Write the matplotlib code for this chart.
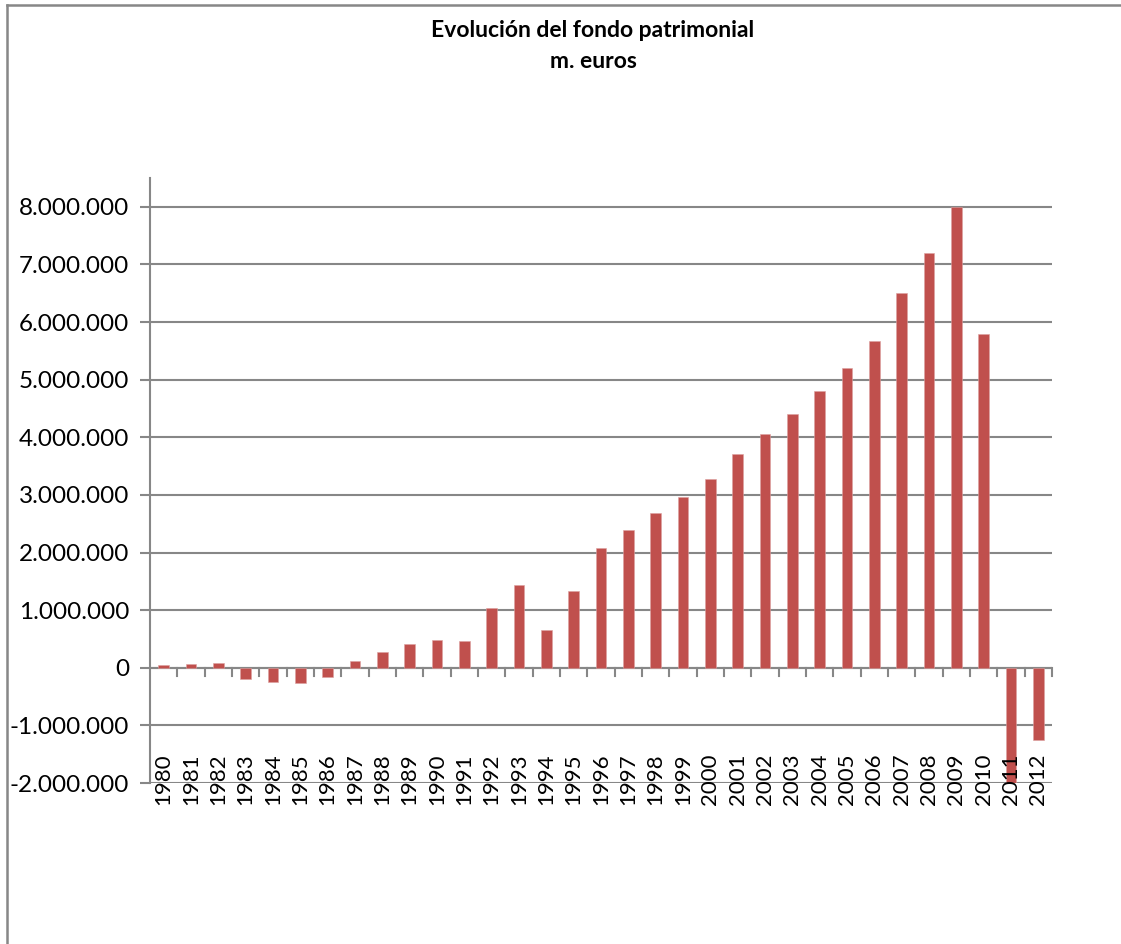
import matplotlib.pyplot as plt
from matplotlib.lines import Line2D
from matplotlib.ticker import FixedLocator, FuncFormatter
import numpy as np

# Evolución del fondo patrimonial (m. euros)

years = [str(y) for y in range(1980, 2013)]

values = [
    45000, 60000, 80000, -200000, -250000, -270000, -160000, 125000,
    280000, 410000, 490000, 470000, 1030000, 1440000, 660000, 1340000,
    2070000, 2390000, 2690000, 2970000, 3270000, 3710000, 4050000,
    4410000, 4800000, 5200000, 5670000, 6500000, 7200000, 8000000,
    5790000, -2050000, -1260000,
]

y_ticks = list(range(-2000000, 8000001, 1000000))

BAR_COLOR = "#C0504D"
GRID_COLOR = "#878787"
FONT = "Lato"

fig = plt.figure(figsize=(11.21, 9.44), dpi=100)

ax = fig.add_axes([150 / 1121, 1 - 783 / 944, 902 / 1121, (783 - 178) / 944])

x = np.arange(len(years))

ax.bar(
    x,
    values,
    width=0.38,
    color=BAR_COLOR,
    edgecolor="#DDA0A0",
    linewidth=0.4,
    zorder=3,
)

ax.set_xlim(-0.5, len(years) - 0.5)
ax.set_ylim(-2000000, 8500000)

# y axis
ax.yaxis.set_major_locator(FixedLocator(y_ticks))
ax.yaxis.set_major_formatter(
    FuncFormatter(lambda v, p: f"{int(v):,}".replace(",", "."))
)
ax.tick_params(
    axis="y",
    length=7,
    width=1.5,
    color=GRID_COLOR,
    labelsize=17.5,
    pad=8,
)
for label in ax.get_yticklabels():
    label.set_fontfamily(FONT)

ax.grid(axis="y", color=GRID_COLOR, linewidth=1.5, zorder=1)
ax.set_axisbelow(True)

for side in ["top", "right", "bottom"]:
    ax.spines[side].set_visible(False)
ax.spines["left"].set_color(GRID_COLOR)
ax.spines["left"].set_linewidth(1.5)

# category axis drawn at zero, ticks between categories
ax.axhline(0, color=GRID_COLOR, linewidth=1.5, zorder=2)
ax.set_xticks([])
for b in np.arange(0.5, len(years), 1.0):
    ax.plot(
        [b, b],
        [0, -150000],
        color=GRID_COLOR,
        linewidth=1.5,
        clip_on=False,
        zorder=2,
    )

for i, year in enumerate(years):
    ax.text(
        i,
        -2390000,
        year,
        rotation=90,
        ha="center",
        va="bottom",
        fontsize=16,
        fontfamily=FONT,
        zorder=4,
        clip_on=False,
    )

# title
fig.text(
    593 / 1121,
    1 - 37 / 944,
    "Evolución del fondo patrimonial",
    ha="center",
    va="baseline",
    fontsize=16.5,
    fontweight="bold",
    fontfamily=FONT,
)
fig.text(
    593 / 1121,
    1 - 68 / 944,
    "m. euros",
    ha="center",
    va="baseline",
    fontsize=16.5,
    fontweight="bold",
    fontfamily=FONT,
)

# chart area border (left and top visible)
fig.add_artist(
    Line2D([7 / 1121, 7 / 1121], [0, 1 - 5 / 944], color=GRID_COLOR, linewidth=1.8)
)
fig.add_artist(
    Line2D([7 / 1121, 1], [1 - 5 / 944, 1 - 5 / 944], color=GRID_COLOR, linewidth=1.8)
)

fig.savefig("out.png", dpi=100)
